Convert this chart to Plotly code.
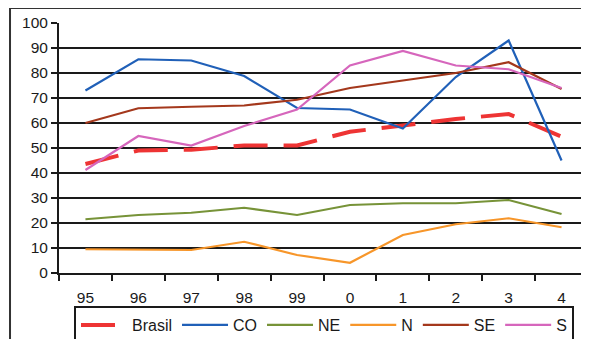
import plotly.graph_objects as go

years = ["95", "96", "97", "98", "99", "0", "1", "2", "3", "4"]
brasil = [43.6, 49, 49.3, 51, 51, 56.5, 59, 61.6, 63.6, 54.5]
co = [73, 85.5, 85, 78.8, 66, 65.4, 57.8, 78.4, 93, 45]
ne = [21.5, 23.2, 24.1, 26.1, 23.2, 27.2, 27.9, 27.9, 29.2, 23.6]
n = [9.5, 9.3, 9.2, 12.5, 7.2, 4.1, 15.2, 19.5, 21.9, 18.3]
se = [60, 65.9, 66.5, 67, 69.3, 74, 77, 80, 84.3, 73.6]
s = [41.2, 54.8, 51, 58.8, 65.4, 83, 88.8, 83, 81.5, 74]
y_ticks = [0, 10, 20, 30, 40, 50, 60, 70, 80, 90, 100]

# page body has an 8px margin; the figure is sized/offset to compensate
W, H = 581, 331

fig = go.Figure()
series = [
    ("Brasil", brasil, "#EE3434", 4, "34px,16px"),
    ("CO", co, "#2060B8", 2.2, "solid"),
    ("NE", ne, "#779338", 2.2, "solid"),
    ("N", n, "#F7962A", 2.2, "solid"),
    ("SE", se, "#A4381C", 2.2, "solid"),
    ("S", s, "#D666BC", 2.2, "solid"),
]
for name, vals, color, w, dash in series:
    fig.add_trace(go.Scatter(x=years, y=vals, mode="lines", name=name,
                             line=dict(color=color, width=w, dash=dash)))

fig.update_layout(
    template="none",
    width=W, height=H,
    autosize=False,
    margin=dict(l=51, r=1, t=15, b=66, autoexpand=False),
    paper_bgcolor="white", plot_bgcolor="white",
    font=dict(family="Liberation Sans, Arial, sans-serif", size=15.5, color="#1a1a1a"),
    showlegend=True,
    legend=dict(orientation="h", xref="container", yref="container",
                x=66 / W, xanchor="left", y=1 - 298 / H, yanchor="top",
                bordercolor="#1a1a1a", borderwidth=2, bgcolor="rgba(0,0,0,0)",
                font=dict(size=16), itemwidth=46,
                tracegroupgap=0, traceorder="normal"),
    xaxis=dict(type="category", range=[-0.5, 9.5], showgrid=False, automargin=False,
               showline=True, linecolor="#1a1a1a", linewidth=2,
               ticks="outside", tickson="boundaries", ticklen=6, tickwidth=2,
               tickcolor="#1a1a1a", ticklabelstandoff=9, fixedrange=True),
    yaxis=dict(range=[0, 100], tickvals=y_ticks, showgrid=True, automargin=False,
               gridcolor="#1a1a1a", gridwidth=2, zeroline=False,
               showline=True, linecolor="#1a1a1a", linewidth=2,
               ticks="outside", ticklen=6, tickwidth=2, tickcolor="#1a1a1a",
               fixedrange=True),
)
# outer frame
fig.add_shape(type="rect", xref="paper", yref="paper",
              x0=-0.0926, x1=1.05, y0=-0.4, y1=1.06,
              line=dict(color="#333333", width=2), layer="below")
# right plot border
fig.add_shape(type="line", xref="paper", yref="paper", x0=1, x1=1, y0=0, y1=1.03,
              line=dict(color="#aaaaaa", width=2))
fig.write_html("out.html")
